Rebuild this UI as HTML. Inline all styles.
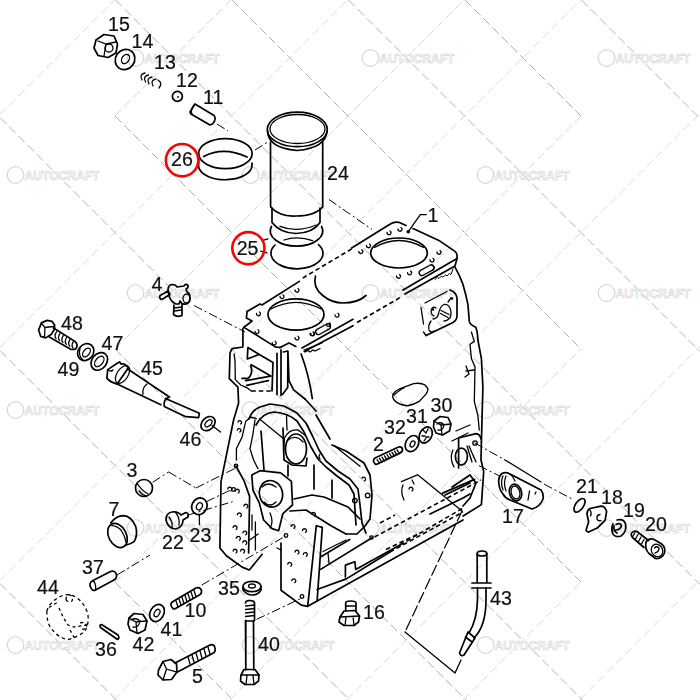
<!DOCTYPE html>
<html><head><meta charset="utf-8">
<style>
html,body{margin:0;padding:0;background:#fff;width:700px;height:700px;overflow:hidden}
svg{position:absolute;left:0;top:0}
.g{fill:none;stroke-width:1;stroke-dasharray:9 4}
.gm{stroke:#b0b0b0}
.gp{stroke:#d8d8d8}
.k{fill:none;stroke:#000;stroke-width:1.7;stroke-linecap:round;stroke-linejoin:round}
.kt{fill:none;stroke:#000;stroke-width:1.3;stroke-linecap:round}
.dd{fill:none;stroke:#000;stroke-width:1;stroke-dasharray:9 3 2 3}
.ds{fill:none;stroke:#000;stroke-width:1.6;stroke-dasharray:4.5 3}
.rc{fill:none;stroke:#ff0000;stroke-width:2.6}
text{font-family:"Liberation Sans",sans-serif;font-size:19.6px;fill:#111;stroke:#111;stroke-width:0.2}
.wm text{font-family:"Liberation Sans",sans-serif;font-weight:bold;font-size:13px;fill:#fdfdfd;stroke:#d6d6d6;stroke-width:0.7}
.wm circle{fill:none;stroke:#d8d8d8;stroke-width:1.3}
</style></head><body>
<svg width="700" height="700" viewBox="0 0 700 700">
<rect width="700" height="700" fill="#fff"/>
<path class="g gm" d="M0.0 583.5L116.5 700.0 M0.0 350.5L349.5 700.0 M115.0 582.0L233.0 700.0 M0.0 117.5L582.5 700.0 M115.0 349.0L466.0 700.0 M115.5 0.0L700.0 584.5 M115.0 116.0L581.0 582.0 M348.5 0.0L700.0 351.5 M232.0 0.0L581.0 349.0 M581.5 0.0L700.0 118.5 M465.0 0.0L581.0 116.0"/>
<path class="g gp" d="M0.0 114.5L114.5 0.0 M115.0 116.0L231.0 0.0 M0.0 347.5L347.5 0.0 M115.0 349.0L464.0 0.0 M0.0 580.5L580.5 0.0 M115.0 582.0L581.0 116.0 M113.5 700.0L700.0 113.5 M230.0 700.0L581.0 349.0 M346.5 700.0L700.0 346.5 M463.0 700.0L581.0 582.0 M579.5 700.0L700.0 579.5"/>
<g class="wm" id="wm"><circle cx="135.5" cy="58.0" r="8.3"/><text x="144.5" y="62.7" textLength="75" lengthAdjust="spacingAndGlyphs">AUTOCRAFT</text><circle cx="370.5" cy="58.0" r="8.3"/><text x="379.5" y="62.7" textLength="75" lengthAdjust="spacingAndGlyphs">AUTOCRAFT</text><circle cx="606.5" cy="58.0" r="8.3"/><text x="615.5" y="62.7" textLength="75" lengthAdjust="spacingAndGlyphs">AUTOCRAFT</text><circle cx="135.5" cy="293.0" r="8.3"/><text x="144.5" y="297.7" textLength="75" lengthAdjust="spacingAndGlyphs">AUTOCRAFT</text><circle cx="370.5" cy="293.0" r="8.3"/><text x="379.5" y="297.7" textLength="75" lengthAdjust="spacingAndGlyphs">AUTOCRAFT</text><circle cx="606.5" cy="293.0" r="8.3"/><text x="615.5" y="297.7" textLength="75" lengthAdjust="spacingAndGlyphs">AUTOCRAFT</text><circle cx="135.5" cy="528.0" r="8.3"/><text x="144.5" y="532.7" textLength="75" lengthAdjust="spacingAndGlyphs">AUTOCRAFT</text><circle cx="370.5" cy="528.0" r="8.3"/><text x="379.5" y="532.7" textLength="75" lengthAdjust="spacingAndGlyphs">AUTOCRAFT</text><circle cx="606.5" cy="528.0" r="8.3"/><text x="615.5" y="532.7" textLength="75" lengthAdjust="spacingAndGlyphs">AUTOCRAFT</text><circle cx="15.5" cy="175.0" r="8.3"/><text x="24.5" y="179.7" textLength="75" lengthAdjust="spacingAndGlyphs">AUTOCRAFT</text><circle cx="250.5" cy="175.0" r="8.3"/><text x="259.5" y="179.7" textLength="75" lengthAdjust="spacingAndGlyphs">AUTOCRAFT</text><circle cx="485.5" cy="175.0" r="8.3"/><text x="494.5" y="179.7" textLength="75" lengthAdjust="spacingAndGlyphs">AUTOCRAFT</text><circle cx="15.5" cy="410.0" r="8.3"/><text x="24.5" y="414.7" textLength="75" lengthAdjust="spacingAndGlyphs">AUTOCRAFT</text><circle cx="250.5" cy="410.0" r="8.3"/><text x="259.5" y="414.7" textLength="75" lengthAdjust="spacingAndGlyphs">AUTOCRAFT</text><circle cx="485.5" cy="410.0" r="8.3"/><text x="494.5" y="414.7" textLength="75" lengthAdjust="spacingAndGlyphs">AUTOCRAFT</text><circle cx="15.5" cy="645.0" r="8.3"/><text x="24.5" y="649.7" textLength="75" lengthAdjust="spacingAndGlyphs">AUTOCRAFT</text><circle cx="250.5" cy="645.0" r="8.3"/><text x="259.5" y="649.7" textLength="75" lengthAdjust="spacingAndGlyphs">AUTOCRAFT</text><circle cx="485.5" cy="645.0" r="8.3"/><text x="494.5" y="649.7" textLength="75" lengthAdjust="spacingAndGlyphs">AUTOCRAFT</text></g>
<g id="draw">
<!-- 15 nut -->
<path class="k" d="M38,0"/>
<path class="k" d="M96,40 L104,34.5 L114,36 L117.5,44 L116,53 L108,57.5 L98,55.5 L94,48 Z"/>
<path class="kt" d="M98,41 L106,44 L116,42 M106,44 L104,56"/>
<circle class="kt" cx="109" cy="48" r="4"/>
<!-- 14 washer -->
<ellipse class="k" cx="125" cy="59.5" rx="9.5" ry="10.5" transform="rotate(35 125 59.5)"/>
<ellipse class="kt" cx="125.5" cy="59" rx="3.5" ry="5" transform="rotate(35 125.5 59)"/>
<!-- 13 spring -->
<path class="kt" d="M145,73 Q139,74 142,80 M148.5,75 Q142.5,76 145.5,82 M152,77 Q146,78 149,84 M156,79 Q150,80 153,86 M158,80 Q163,83 159,88"/>
<!-- 12 ball -->
<circle class="k" cx="177.4" cy="96.4" r="5"/>
<circle cx="178" cy="97" r="0.9" fill="#000"/>
<!-- 11 pin -->
<path class="k" d="M190,112 L195,104 L214,115.5 Q217,119 212.5,124 L210,125 L191,114 Z"/>
<path class="kt" d="M194,105 Q190,110 192,114"/>
<path class="dd" d="M217,124 L228,131"/>
<!-- 26 ring -->
<ellipse class="k" cx="225.4" cy="153.6" rx="26.8" ry="15"/>
<path class="k" d="M203.6,156.4 Q224,146 247.1,157.1"/>
<path class="k" d="M198.6,154 L198.6,167 A26.8,14.5 0 0 0 252,165 L252,163"/>
<path class="dd" d="M255,150 L268,142"/>
<!-- 24 liner -->
<ellipse class="k" cx="297.3" cy="129.4" rx="30" ry="17.3"/>
<ellipse class="kt" cx="297.5" cy="129" rx="27.5" ry="14.5"/>
<path class="k" d="M267.5,131 Q268,148 297,150.5 Q326,148 327,131"/>
<path class="k" d="M270.5,142 L270.6,207 Q280,217 296,216 Q315,216 322.7,207 L322.7,142"/>
<path class="k" d="M272,208 L272,222.5 Q280,233 296,233.5 Q313,233 320,222.5 L320,208"/>
<path class="dd" d="M329,199.5 L372,229.5"/>
<!-- 25 rings -->
<path class="k" d="M271.4,226.5 A26.2,15.3 0 1 0 321.6,226.5"/>
<path class="k" d="M275,245 A26,15.5 0 1 0 318.5,244.6"/>
<path class="kt" d="M284,240 Q297.7,235.5 312.6,240.6 M280,226.3 Q297,233 316,225"/>
<path class="kt" d="M262.9,240.4 L267.9,238.9 M260.7,251.1 L267.1,252.9"/>

<!-- 4 drain cock -->
<path class="k" d="M160.5,299 Q158.5,296.5 161,295 L168,291 L170,294.5 L163,298.8 Q161.5,299.8 160.5,299 Z"/>
<path class="k" d="M168,290 Q168,285 172,284.5 Q176,284.5 177,287 L184,286 Q186,283 188,285.5 Q188.5,288 186,289 L187,292 Q190,293 190,298 Q190,303 186,304 Q182,305 180,301 L179,304 L176,304 Q171,302 169,296 Z"/>
<ellipse class="kt" cx="186.5" cy="298.5" rx="3.5" ry="4.5"/>
<path class="k" d="M174,305 L173.5,314.5 Q177,317.5 182,315.5 L182,304"/>
<path class="kt" d="M174.5,308 L181.5,307 M174.5,311 L181.5,310"/>
<path class="dd" d="M194,305.5 L245,332"/>

<!-- 48 bolt -->
<path class="k" d="M38.6,330 L41.4,322.9 L47.1,320.4 L52.1,321.4 L54.6,325 L54.5,329 L51.4,334.3 L45.7,337.9 L40.7,336.4 Z"/>
<path class="kt" d="M42,324 L45,327.5 L53.5,326.5 M45,327.5 L44.5,337"/>
<path class="k" d="M53.5,328 L75,341.4 Q78.5,345 76,348.5 Q74,350 70.7,349.3 L49.3,337.1"/>
<path class="kt" d="M56.5,331.8 Q53.8,335.8 56.1,338.6 M59.9,333.7 Q57.2,337.7 59.5,340.5 M63.3,335.6 Q60.6,339.6 62.9,342.4 M66.7,337.5 Q64.0,341.5 66.3,344.3 M70.1,339.4 Q67.4,343.4 69.7,346.2 M73.5,341.3 Q70.8,345.3 73.1,348.1"/>
<!-- 49 washer -->
<ellipse class="k" cx="85.7" cy="352.1" rx="7.6" ry="9" transform="rotate(38 85.7 352.1)"/>
<ellipse class="kt" cx="86.5" cy="352.5" rx="3" ry="5" transform="rotate(38 86.5 352.5)"/>
<path class="kt" d="M80,348 Q78,356 83,360"/>
<!-- 47 washer -->
<ellipse class="k" cx="99.3" cy="361.4" rx="7.4" ry="9.6" transform="rotate(38 99.3 361.4)"/>
<ellipse class="kt" cx="99.3" cy="361.4" rx="3.6" ry="6" transform="rotate(38 99.3 361.4)"/>
<!-- 45 tube -->
<path class="k" d="M107.7,369.6 L118,362.7 L119.7,361.9 L121,364 Q125,363 128.3,367.9 L117.1,384.1 Q110,382 106.9,378.1 Z"/>
<path class="kt" d="M108,370 Q111,372 113,370"/><ellipse class="kt" cx="122.5" cy="374.5" rx="5.5" ry="10" transform="rotate(33 122.5 374.5)"/>
<path class="k" d="M127.4,368.7 L169.4,397 M117.1,384.1 L160.9,404.7"/>
<path class="kt" d="M147,384 Q142,388 142.9,394.4"/>
<path class="k" d="M169.4,397 Q163,399 164.3,406.4 M165.5,398.5 L199.4,413.3 L198.6,417.6 L185.7,416.7 L164.3,406.4"/>
<!-- 46 washer -->
<ellipse class="k" cx="208" cy="423.6" rx="6" ry="8" transform="rotate(45 208 423.6)"/>
<ellipse class="kt" cx="208.5" cy="423.3" rx="2.5" ry="4.3" transform="rotate(45 208.5 423.3)"/>
<path class="kt" d="M212,425.5 L220.5,432"/>

<!-- 3 plug -->
<circle class="k" cx="144" cy="488" r="8.5"/>
<path class="kt" d="M137,483 Q141,490 148,494 M139,491 Q142,495 146,496"/>
<path class="dd" d="M152.6,482.3 L168.6,472"/>
<path class="dd" d="M168.6,472 L196,488"/>
<path class="dd" d="M196,488 L237,467.4"/>
<!-- 7 cup -->
<ellipse class="k" cx="117.5" cy="535.5" rx="8.8" ry="12.8" transform="rotate(-28 117.5 535.5)"/>
<path class="k" d="M110.7,522.9 Q116,516 123.6,515.7 Q131,516 135.7,526.4 Q138,535 134.3,541.4 Q131,544 126.4,545"/>
<path class="kt" d="M111.8,525.7 Q117,526 121,530 Q125,536 126,542"/>
<!-- 22 bolt -->
<path class="k" d="M166,520 Q166,513 172,512 Q178,511 181,515 L186,512.5 Q189,513 188,517 L183,520 Q183,527 176,529 Q168,529 166,520 Z"/>
<path class="kt" d="M169,517 Q173,522 172,527 M176,513 Q180,518 179,525"/>
<path class="dd" d="M187,515.4 L232.6,501.7"/>
<!-- 23 washer -->
<ellipse class="k" cx="199.4" cy="506.3" rx="7.5" ry="8.5" transform="rotate(25 199.4 506.3)"/>
<ellipse class="kt" cx="199.4" cy="506.3" rx="2.8" ry="3.8" transform="rotate(25 199.4 506.3)"/>
<path class="kt" d="M199.4,514.8 L199.4,524.6"/>
<path class="dd" d="M206.3,501.7 L232.6,489.1"/>
<!-- 37 pin -->
<path class="k" d="M91,588 Q88,583 93,580.5 L110.5,571.5 Q115.5,570 116.5,575 Q117,579 113,580.5 L95.5,590 Q92.5,591.5 91,588 Z"/>
<path class="kt" d="M93,580.5 Q96.5,584 95.5,590"/>
<path class="dd" d="M117,575 L150,555"/>
<!-- 44 dashed sleeve -->
<path class="ds" style="stroke-width:1.3;stroke-dasharray:3.5 3" d="M46.9,610.7 Q46.5,624 52.9,630.4 Q58,637 67.4,639.8 Q78,637 84.6,631.3 Q89,625 88,615 Q86,606 79,599.5 Q72,593.5 64,595 Q55,598 48.6,606.4 Z"/>
<path class="ds" style="stroke-width:1.3;stroke-dasharray:3 3" d="M66,600 Q66,594.5 70,595 Q73.5,597 72,601 Q69,603 66,600 M49,607.5 L58,602 M59,608 L63,617 L68,625 L74,627 L86,625 M80,623 Q86,621 87,627 Q85,630 80,629 M70,630 L75,639"/>
<!-- 36 pin -->
<path class="k" d="M100.5,627.5 Q99,625 101.5,624.5 L118,635 Q120,638 117.5,639.5 Z"/>
<!-- 42 nut -->
<path class="k" d="M129,618 L134,613.5 L143,614.5 L147,621 L145,630 L138,633.5 L130,630 L128,624 Z"/>
<path class="kt" d="M131,620 Q136,617 140,621 Q139,628 133,627 M129,618 L136,622 L146,621 M136,622 L137,633"/>
<!-- 41 washer -->
<ellipse class="k" cx="157" cy="613" rx="6.8" ry="9" transform="rotate(30 157 613)"/>
<ellipse class="kt" cx="157" cy="613" rx="2.5" ry="4" transform="rotate(30 157 613)"/>
<!-- 10 stud -->
<path class="k" d="M172.5,608 Q169,604 173,601.5 L196,588 Q200,586.5 201.5,590.5 Q202,594 198.5,595.5 L175.5,608.5 Q173.5,609.5 172.5,608 Z"/>
<path class="kt" d="M176,601 L178,607 M179,599 L181,605 M182,597.5 L184,603.5 M185,595.5 L187,601.5 M188,594 L190,600 M191,592 L193,598 M194,590.5 L196,596.5"/>
<path class="dd" d="M201.7,585.1 L286,535.7"/>
<!-- 35 washer -->
<ellipse class="k" cx="252" cy="586.5" rx="9" ry="5.2"/>
<path class="k" d="M243,587 L243,590 Q247,595 252,595 Q258,595 261,590 L261,587"/>
<ellipse class="kt" cx="252" cy="586" rx="3.5" ry="2"/>
<!-- 40 bolt -->
<path class="k" d="M245.5,603 Q245.5,600.5 250,600.5 Q254.5,600.5 254.5,603 L254.5,620.5 L253.5,621 L253.8,669.8 M245.8,669.8 L245.8,621 L245.5,620.5 Z"/>
<path class="kt" d="M245.5,606 L254.5,605 M245.5,609.5 L254.5,608.5 M245.5,613 L254.5,612 M245.5,616.5 L254.5,615.5 M245.8,621 L253.5,621"/>
<path class="k" d="M241,675 L244,669.5 L255,669.5 L259,675 L258.5,681 L254,684.5 L245,684.5 L240.5,681 Z"/>
<path class="kt" d="M241,675 L259,675 M247,675 L246,684.5 M253,675 L254,684.5"/>
<path class="dd" d="M256.6,619.4 L300,598.9"/>
<!-- 5 bolt -->
<path class="k" d="M158.5,670 L163,661.5 L171,659.5 L176.5,664 L177,672 L171.5,679.5 L163,680 L158,675 Z"/>
<path class="kt" d="M163,661.5 L166.5,669 L177,672 M166.5,669 L163,680"/>
<path class="k" d="M175,663 L209,645.5 Q214,643 215,648 Q216,652 212.5,653.5 L177.5,672"/>
<path class="kt" d="M188,657 L190,664 M192,655 L194,662 M196,653 L198,660 M200,651 L202,658 M204,649 L206,656 M208,647 L210,654"/>

<!-- 2 stud -->
<path class="k" d="M374.8,463.5 Q372,460.5 375,458 L398.5,447 Q401.8,446.2 402.5,449 Q402.8,451.8 400,453 L376.8,464.2 Q375.5,464.6 374.8,463.5 Z"/>
<path class="kt" d="M377,459.5 L379.5,463.5 M379.5,458.3 L382,462.3 M382,457.1 L384.5,461.1 M384.5,455.9 L387,459.9 M387,454.7 L389.5,458.7 M389.5,453.5 L392,457.5 M392,452.3 L394.5,456.3 M394.5,451.1 L397,455.1 M397,449.9 L399.5,453.9"/>
<!-- 32 washer -->
<ellipse class="k" cx="412" cy="443.6" rx="6.3" ry="8.5" transform="rotate(28 412 443.6)"/>
<ellipse class="kt" cx="412.5" cy="444" rx="2.2" ry="3.2" transform="rotate(28 412.5 444)"/>
<!-- 31 lock washer -->
<ellipse class="k" cx="425.7" cy="435" rx="6" ry="8.5" transform="rotate(28 425.7 435)"/>
<path class="kt" d="M423,430 L426,433 M428,429 L426,433 M422,436 L425,436 M429,437 L426,437 M424,441 L426,438"/>
<!-- 30 nut -->
<path class="k" d="M434,421 L440,416.5 L448,417.5 L451,424 L449.5,431 L442.5,435 L436,433 L433.5,427 Z"/>
<path class="kt" d="M437,424 Q441,421 444,425 Q443,431 438,430 M434,421 L441,425 L451,424 M441,425 L442,435"/>
<!-- oval cover -->
<path class="k" style="stroke-width:1.4" d="M392.9,394.3 Q396,390 402.1,387.9 L413.6,383.6 Q421,382.5 425,385 L427.9,388.6 Q428,391 426.4,393.6 L419.3,401.4 Q414,404.5 407.9,405.7 Q400,405 396.4,402.1 Q392,399 392.9,394.3 Z"/>
<path class="kt" d="M394,395 Q401,389 404,388"/>

<!-- 17 fitting -->
<path class="k" d="M499.5,487 Q497,478 502,473.5 Q506,471.5 510,474 L541,490 Q544,494 543,499 Q540,507 532,509 L510,500 Q505,498 503,494 Q500,491 499.5,487 Z"/>
<path class="kt" d="M503,476 Q500,482 503,490 M506,476 Q503,483 506,491 M510,474 Q513,476 515,481"/>
<ellipse class="k" cx="515.5" cy="492.5" rx="6" ry="8.5" transform="rotate(-15 515.5 492.5)"/>
<ellipse class="kt" cx="515.5" cy="492.5" rx="4.3" ry="6.6" transform="rotate(-15 515.5 492.5)"/>
<path class="kt" d="M529.5,491 L528,500 M536,492 L535,494"/>
<!-- 21 o-ring -->
<ellipse class="k" cx="579.5" cy="505.3" rx="4" ry="7.8" transform="rotate(35 579.5 505.3)"/>
<!-- 18 bracket -->
<path class="k" d="M590.1,508.5 L601.1,506.1 Q605,506 606.6,511.6 L605.1,520.3 L597.2,528.1 L588.6,532.1 Q585.5,531 586.2,529.7 L588.6,521.9 L587,514 Q587,510 590.1,508.5 Z"/>
<path class="kt" d="M600,514.5 Q596.5,515 597,519 Q598,521.5 601,520.5 M590,510 Q592,513 590.5,516"/>
<!-- 19 spring washer -->
<path class="k" d="M617,520 Q624,518.5 625.5,524 Q627,532 621,536 Q614.5,538 612.5,533 Q611,528 613,524"/>
<path class="k" d="M616,524.5 Q620.5,522 621.5,526 Q620,530 615.5,530 M614,526 Q613,531 617,533"/>
<!-- 20 bolt -->
<path class="k" d="M632.5,537.5 Q629.5,533.5 633.5,531.5 Q635.5,530.5 637,531.5 L648.5,540.5 M632.5,537.5 L644,547.5"/>
<path class="kt" d="M635,532.5 L632.5,537 M638,534.5 L635.5,539 M641,537 L638.5,541.5 M644,539.5 L641.5,544"/>
<path class="k" d="M646,542 Q649,537.5 654,539.5 L661,543.5 Q666,547 664.5,553 Q662,559 655.5,558.5 L649,553.5 Q644.5,549 646,542 Z"/>
<ellipse class="kt" cx="657" cy="550.5" rx="5.5" ry="6.5" transform="rotate(-30 657 550.5)"/>
<path class="kt" d="M654.5,548 Q656.5,545.5 659,548 Q659,552 655,553"/>
<!-- 16 plug -->
<path class="k" d="M345.7,603 Q345.7,601 350.5,601 Q356,601 356,603 L356,611 M345.7,603 L345.7,611"/>
<path class="kt" d="M345.7,606 L356,606"/>
<path class="k" d="M340,617 L344,611 L355,610.5 L359.5,616 L358.5,622 L354,625.5 L344,625.5 L339,622 Z"/>
<path class="kt" d="M340,617 L359.5,616 M346,617 L345,625.5 M353,616.5 L354,625.5"/>

<!-- 43 pipe -->
<ellipse class="k" cx="482" cy="553.5" rx="4.8" ry="2.5"/>
<path class="k" d="M477.2,553.5 L477.2,583 M486.8,553.5 L486.8,583 M472,583 L491,583 M472,588 L491,588"/>
<path class="k" d="M477.5,588 L477.5,600 Q477,620 469,633 M486,588 L486,600 Q486,626 474,638"/>
<path class="k" d="M468,632 L475,638 L464,655 Q461,657 459.5,653 Z M465.5,637 L472,642"/>
<path class="kt" d="M405,632 L455,673 L461,660"/>
<path class="kt" style="stroke-width:1.2;stroke-dasharray:11 4" d="M462,511 L405,632"/>
<path class="kt" d="M418,475 L462,511"/>
</g>

<g id="block">
<!-- rear plate -->
<path class="k" d="M351.7,248 L390.3,224 Q394,221.5 398.9,222.3 L406,225.5 M413,228.6 L440,241.1 L455,251.4 Q457.5,253 457,258.5 L403,290"/>
<path class="k" d="M457,258.5 L455,266 L405,294"/>
<ellipse class="k" cx="399" cy="253" rx="28.3" ry="15"/>
<path class="kt" d="M374.5,247.5 Q399,233.5 423.5,247.5"/>
<circle cx="408.3" cy="231.7" r="1.8" fill="#000"/>
<path class="kt" d="M408.3,231.7 L420.3,214.6 L426.3,214.6"/>
<path class="kt" d="M387,232.5 a2,2 0 1 0 3,-1.5 M398,229 a2,2 0 1 0 3,-1.5 M366.5,245.5 a2,2 0 1 0 3,-1.5 M358.8,251.3 a2,2 0 1 0 3,-1.5 M396.5,276 a2,2 0 1 0 3,-1.5 M407.6,272.6 a2,2 0 1 0 3,-1.5 M430,259.8 a2,2 0 1 0 3,-1.5 M437,252 a2,2 0 1 0 3,-1.5"/>
<rect class="kt" x="418.5" y="267.5" width="16" height="5.5" rx="2.7" transform="rotate(-29 426.5 270.2)"/>
<path class="kt" d="M432,265 Q436,267 433,270"/>
<!-- hatch under rear plate -->
<path class="kt" style="stroke-width:1" d="M435,279.5 L437.5,277.2 L439,278.5 L441.5,276 L443,277.3 L445.5,274.8 L447,276 L449.5,273.5 L451,274.5 L453,269"/>
<!-- back top edge dashed -->
<path class="ds" d="M351.7,248.9 L302,278.5"/>
<!-- middle bore arc -->
<path class="k" d="M315.5,276 C311,292 330,303 343,303 C353,303 361,300 366,295.5"/>
<!-- front plate -->
<path class="k" d="M247.1,311.4 L260,304 L262,305 L299.3,281.4"/>
<path class="k" d="M247.1,311.4 L246.4,318 L252,321 L247,325 L243.6,327.1 L275.7,347.1 L281,347.5"/>
<ellipse class="k" cx="296" cy="314.5" rx="28" ry="15.6"/>
<path class="kt" d="M271,309 Q296,295.6 321,309"/>
<path class="kt" d="M256.5,313.5 a2,2 0 1 0 3,-1.5 M280,296.3 a2,2 0 1 0 3,-1.5 M295,290 a2,2 0 1 0 3,-1.5 M255,331.3 a2,2 0 1 0 3,-1.5 M272.2,342.7 a2,2 0 1 0 3,-1.5 M295,337.7 a2,2 0 1 0 3,-1.5 M310.7,333.5 a2,2 0 1 0 3,-1.5 M335,314.9 a2,2 0 1 0 3,-1.5 M326.5,324.2 a2,2 0 1 0 3,-1.5 M310,333.5 a2,2 0 1 0 3,-1.5"/>
<rect class="kt" x="315" y="326.5" width="16" height="5.5" rx="2.7" transform="rotate(-29 323 329.2)"/>
<!-- front top edge -->
<path class="k" d="M302,348 L353,319.3 M304.3,351.4 L353,325.7"/>
<path class="ds" d="M357,322.5 L401,297"/>
<path class="kt" d="M304,350 L322,343 M305,352 L308,350.5 L310,352 L313,350 L315,351 L320,348.5"/>
<!-- front face / left flange upper -->
<path class="k" d="M242.9,328.6 L242.9,347 L232.1,348.6 L230,352.9 L229.3,378.6 L237.9,387.1 L238.6,402.9 L233.6,420 L221,481.7 L219.9,548 L226.4,555.7 L242.1,567.1 L249.3,570 L262.1,554.3"/>
<path class="kt" d="M234.1,353.9 L235,361 L235.3,379.6 L241,385.3 L246.7,387.6 L251.3,391"/>
<path class="k" d="M247.9,347.6 L259.3,354.4 L273,362.5 L272,391 M247.9,347.6 L247.3,359 L259.3,354.4 M251.3,364.7 L270.7,376.1 M250.7,365.3 Q253.5,374 247.9,378.4 L242.1,378.4 M245.6,380.7 L270.7,376.1 M246.7,385.3 L268.4,380.7"/><path class="ds" d="M251.3,391 L272,391"/>
<path class="k" d="M277,353.3 L277,394.4 M281,349.9 L281,395.6 M283.3,352 L287.9,351 L287.7,387.6 L282.4,394.4 M279.9,347.6 L289,343 L295.9,346.4 M287.9,351 L289,380.7 L293.6,389.9 L305,399"/>
<path class="k" d="M301.1,354 Q309,375 312.3,398.6"/>
<path class="k" d="M305,399 L316,411"/>
<path class="k" d="M316,415 L330,439"/>
<!-- right side outline -->
<path class="k" d="M455,267.1 Q460,276 462.9,284.3 Q466,295 467.9,304.3 L469.3,321.4 Q470,325 475.7,327.1 Q477.5,331 477.9,340 L481.4,358.6 L482.9,387.1 L482.1,415.7 L481.4,441.7"/>
<path class="kt" d="M471.4,332 L474.3,341.4 L470,344.3 L471.4,358.6 L475,367 L474.3,401.4 L477.9,415.7 L479.3,430 M466,366 L469,374 L465,377 M466,371 L474,370"/>
<!-- emblem plate -->
<path class="k" d="M426,335.5 L453,322.5 Q457,320 457,316 L457,298 Q456.5,292.5 450,290"/>
<path class="kt" d="M425,303 L447,291.5 M421,307.5 L423.5,324 M423.5,332 L426,335.5"/>
<path class="kt" d="M434,316 Q430,314 431.5,309 Q433.5,306 436,308 M433,319 Q437,319 438.5,314 Q440,306 444,304.5 Q448,304 450,308 Q452,313 450,318 Q447,321 444,321 M431,321 Q428,325 429,330 Q430.5,333 434,331 M441,310.5 L449,314.5 M440.5,313.5 L448,317.5 M448,302 L451,298"/>
<circle cx="433" cy="309.5" r="1.3" fill="#000"/><circle cx="452" cy="298.5" r="1.3" fill="#000"/>
<!-- timing case -->
<path class="k" d="M249,419 Q252,410 260,407 L270,404 L284,406 L297,413 L306,423 L313,437 L319,450 L326,461 L338,471 L350,479 L358,489 L360,505 L362,523 L366,533"/>
<path class="k" d="M256,425 Q262,413 274,412 Q288,413 297,421 L304,432 L311,447 L318,459 L326,467 L337,476 L349,485 L354,494 L355,510 L356,525"/>
<path class="k" d="M332,445 L346,451 L364,463 L370,475 L372,495 L370,519 L365,526 L357,534 L346,534"/>
<ellipse class="k" cx="296" cy="449" rx="10.5" ry="15"/>
<path class="kt" d="M288,440 Q296,434 303,442 M283.5,452 L284.5,438 Q289,429 298,430 L306,436"/>
<path class="k" d="M283,428 L284,460 L292,465 L306,466 L307,458"/>
<ellipse class="k" cx="271" cy="493.8" rx="11.5" ry="13.4" transform="rotate(-15 271 493.8)"/>
<path class="kt" d="M262,487 Q268,481 276,487 M264,502 Q270,508 276,502"/>
<path class="k" d="M251.8,475 L260,470.7 L280.7,472.9 L291.4,481.4 L292.5,505 L282.9,513.6 L278.6,530.7 L272.1,528.6 L263.6,520 L259.3,502.9 L252.9,490 Z"/>
<path class="k" d="M294,499 L312,495 L324,497 L336,502 L348,507 L360,519 M290,511 L306,510 L331,525.7 L346,534"/>
<path class="k" d="M261,431 L264,470 M288,465 L288,476 M314,465 L314,489 M332,480 L332,498"/><path class="kt" d="M259.5,419 L284,439 M286.5,416 L287,430"/>
<circle class="kt" cx="354.9" cy="500.6" r="2.3"/><circle class="kt" cx="367.7" cy="495.4" r="2.3"/><path class="kt" d="M362,478 a2,2 0 1 1 2.5,3 M320,454 q-2,3 0,5 M334.3,445.7 L360,466.3"/>
<path class="kt" d="M245.7,421.4 L250.7,417 L256.4,418.6 M245.7,421.4 L242.1,437 L236.4,448.6 L236.4,460 M255,420 L252.9,434.3 L250,448.6 L253.6,460 L257.9,468.6 M238,422 a1.8,1.8 0 1 1 2.5,2 M237.3,430 a1.8,1.8 0 1 1 2.5,2 M252,515 L252,530 M270,513 Q274,522 270,528"/>
<!-- left lower panel -->

<path class="k" d="M236,466 L244.3,481.4 L249.6,496.4 L248.6,553"/><path class="kt" d="M255.4,522 L255.4,550 M249.6,540 L258,534"/>
<path class="kt" d="M227.8,489 a2,2 0 1 1 3,2 M235.3,491 a2,2 0 1 1 3,2 M243.9,506 a2,2 0 1 1 3,2 M237.4,514.6 a2,2 0 1 1 3,2 M233.1,527.5 a2,2 0 1 1 3,2 M242.8,532.8 a2,2 0 1 1 3,2 M236.4,538.2 a2,2 0 1 1 3,2 M233.1,551 a2,2 0 1 1 3,2 M240.6,551 a2,2 0 1 1 3,2 M242.8,542.5 a2,2 0 1 1 3,2"/>
<circle class="kt" cx="236" cy="466" r="1.8"/>
<circle class="kt" cx="233.5" cy="489.5" r="1.8"/>
<!-- front lower face -->
<path class="k" d="M281,543 L281,590.3 L301.2,605.1 L307.7,606.3 L316.3,525.7 L322.3,527.4 L317.1,601.1"/>
<path class="kt" d="M302.5,530.5 a2,2 0 1 1 3,2 M295,552 a2,2 0 1 1 3,2 M303.3,554.3 a2,2 0 1 1 3,2 M287.7,564.2 a2,2 0 1 1 3,2 M291.8,580.6 a2,2 0 1 1 3,2 M311.5,514.1 a2,2 0 1 1 3,2 M291,526.4 a2,2 0 1 1 3,2 M277,548 L281,550"/>
<circle class="kt" cx="286" cy="535.5" r="1.8"/>
<circle class="kt" cx="302" cy="596.5" r="1.8"/>
<!-- oil pan rail -->
<path class="k" d="M307.7,606.3 L463,520"/>
<path class="k" d="M317.1,589.5 L346.3,578.9 L390,552"/>
<path class="k" d="M345.4,577 L345.4,565.1 L354.9,561.7 L355.7,569.4 L400,545"/>
<path class="k" d="M320.6,569.4 L372,537.7"/>
<circle class="kt" cx="371.5" cy="537.5" r="1.7"/>
<path class="k" d="M321.4,556.6 L349.7,539.4"/>
<path class="kt" d="M323,551.5 L346,540 M328,553 L329,563"/>
<path class="ds" d="M390,552 L463,512 M400,545 L463,508 M374.5,537 L481,480 M386,549.5 L420,533 M380,523 L395,515"/>
<path class="k" d="M442.6,493.1 L474.6,479.4 M430,514 L463,498 M463,498 L470,494"/>
<!-- right rear boss -->
<path class="k" d="M481.4,441.7 L481,460 L483.7,471.4 L481.4,504.6 L463.1,516"/>
<path class="k" d="M458.6,438 L476,433.7 Q480,434 481,439 M458.6,438 L458.6,468"/>
<ellipse class="k" cx="461.4" cy="456.6" rx="6" ry="8.5"/>
<path class="kt" d="M453,450 Q449,458 454,467 M467,446 L472,462 M469,446 L476,462"/>
<circle class="kt" cx="475" cy="443" r="2.2"/>
<path class="kt" d="M456,431 L470,425 M452,441 L468,433"/>
<path class="k" d="M470,475 L476,483 L470,498 L463,506 M452,487 L470,475 M445,495 L470,483"/>
<path class="kt" d="M401.4,481.7 L417.4,474.9 M403,485 Q400,492 404,500 M409,489 a2,2 0 1 1 3,2 M412,480 L414,484"/>
<path class="dd" d="M474.6,442.9 L505,460"/><path class="kt" d="M505,460 L541,482"/><path class="dd" d="M544,484 L572,499"/>
<path class="dd" d="M479,465.7 L499.7,476"/>
</g>

<g id="red">
<circle class="rc" cx="182.1" cy="160.2" r="16.2"/>
<circle class="rc" cx="248.4" cy="248.2" r="16.1"/>
</g>
<g id="labels" style="filter:grayscale(1)">
<text x="108" y="31">15</text>
<text x="131.5" y="47.5">14</text>
<text x="154" y="69">13</text>
<text x="176" y="87">12</text>
<text x="203" y="104">11</text>
<text x="171" y="166">26</text>
<text x="327" y="179.5">24</text>
<text x="236.7" y="255">25</text>
<text x="427.5" y="222">1</text>
<text x="151.5" y="290.5">4</text>
<text x="61" y="330">48</text>
<text x="101.5" y="350">47</text>
<text x="57.5" y="376">49</text>
<text x="141" y="374.5">45</text>
<text x="179.5" y="446">46</text>
<text x="126.5" y="477">3</text>
<text x="108.5" y="516">7</text>
<text x="162" y="549">22</text>
<text x="189.5" y="542">23</text>
<text x="373" y="450.5">2</text>
<text x="384" y="434">32</text>
<text x="406" y="422.5">31</text>
<text x="430.5" y="412">30</text>
<text x="576" y="492.5">21</text>
<text x="601" y="503.5">18</text>
<text x="623" y="517">19</text>
<text x="645" y="531">20</text>
<text x="502" y="523">17</text>
<text x="82" y="573.5">37</text>
<text x="37" y="593.5">44</text>
<text x="218" y="594.5">35</text>
<text x="184.5" y="616.5">10</text>
<text x="363" y="619">16</text>
<text x="490" y="604.5">43</text>
<text x="160.5" y="635.5">41</text>
<text x="258" y="650.5">40</text>
<text x="95" y="655.5">36</text>
<text x="132.5" y="650.5">42</text>
<text x="192" y="682.5">5</text>
</g>
</svg>
</body></html>
